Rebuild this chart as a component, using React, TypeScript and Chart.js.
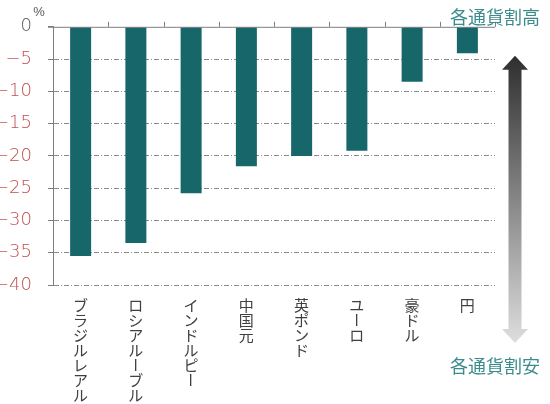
// @ts-nocheck
import {useEffect, useRef} from "react";
import {Chart, registerables} from 'chart.js';

Chart.register(...registerables);

// 各通貨の対ドル変化率 (%)
const currencies = ['ブラジルレアル', 'ロシアルーブル', 'インドルピー', '中国元', '英ポンド', 'ユーロ', '豪ドル', '円'];
const changeRates = [-35.5, -33.5, -25.8, -21.6, -20.0, -19.2, -8.5, -4.1];
const yMin = -40;
const yMax = 0;
const yStep = 5;
const unitLabel = '%';
const topNote = '各通貨割高';
const bottomNote = '各通貨割安';

const TEAL = '#17666a';
const AXIS = '#7f7f7f';
const CJK = '"Noto Sans CJK JP", sans-serif';

const decorPlugin = {
    id: 'decor',
    afterDatasetsDraw(chart) {
        const {ctx, chartArea, scales} = chart;
        const x = scales.x;
        const y = scales.y;
        const zeroY = y.getPixelForValue(0);
        ctx.save();
        // solid zero line with upward category ticks
        ctx.strokeStyle = AXIS;
        ctx.lineWidth = 1;
        ctx.beginPath();
        ctx.moveTo(chartArea.left - 5, zeroY + 0.5);
        ctx.lineTo(chartArea.right, zeroY + 0.5);
        const step = (chartArea.right - chartArea.left) / currencies.length;
        for (let i = 1; i <= currencies.length; i++) {
            const px = Math.round(chartArea.left + i * step) + 0.5;
            ctx.moveTo(px, zeroY);
            ctx.lineTo(px, zeroY - 5);
        }
        ctx.stroke();

        // vertical category labels
        ctx.fillStyle = '#404040';
        ctx.font = '15px ' + CJK;
        ctx.textAlign = 'center';
        ctx.textBaseline = 'middle';
        currencies.forEach((label, i) => {
            const cx = x.getPixelForValue(i);
            [...label].forEach((ch, j) => {
                const cy = chartArea.bottom + 20 + j * 15;
                if (ch === 'ー') {
                    ctx.save();
                    ctx.translate(cx, cy);
                    ctx.rotate(Math.PI / 2);
                    ctx.fillText(ch, 0, 0);
                    ctx.restore();
                } else {
                    ctx.fillText(ch, cx, cy);
                }
            });
        });

        // unit label
        ctx.fillStyle = '#595959';
        ctx.font = '13px "Liberation Sans", sans-serif';
        ctx.textAlign = 'center';
        ctx.fillText(unitLabel, chartArea.left - 14, zeroY - 14);

        // notes
        ctx.fillStyle = '#3b8b8d';
        ctx.font = '18px ' + CJK;
        ctx.textAlign = 'right';
        ctx.fillText(topNote, chart.width - 10, zeroY - 10);
        ctx.fillText(bottomNote, chart.width - 10, chartArea.bottom + 81);

        // gradient double arrow
        const ax = chartArea.right + 20;
        const top = chartArea.top + 29;
        const bot = chartArea.bottom + 58;
        const grad = ctx.createLinearGradient(0, top, 0, bot);
        grad.addColorStop(0, '#2e2e2e');
        grad.addColorStop(1, '#dedede');
        ctx.fillStyle = grad;
        ctx.beginPath();
        ctx.moveTo(ax, top);
        ctx.lineTo(ax + 13, top + 14);
        ctx.lineTo(ax + 6.5, top + 14);
        ctx.lineTo(ax + 6.5, bot - 14);
        ctx.lineTo(ax + 13, bot - 14);
        ctx.lineTo(ax, bot);
        ctx.lineTo(ax - 13, bot - 14);
        ctx.lineTo(ax - 6.5, bot - 14);
        ctx.lineTo(ax - 6.5, top + 14);
        ctx.lineTo(ax - 13, top + 14);
        ctx.closePath();
        ctx.fill();
        ctx.restore();
    },
};

export default function App() {
    const chartRef = useRef(null);
    const chartInstance = useRef(null);

    useEffect(() => {
        const ctx = chartRef.current?.getContext('2d');
        chartInstance.current = new Chart(ctx, {
            type: 'bar',
            data: {
                labels: currencies,
                datasets: [
                    {
                        label: '変化率',
                        data: changeRates,
                        backgroundColor: TEAL,
                        borderWidth: 0,
                        barPercentage: 0.38,
                        categoryPercentage: 1,
                    },
                ],
            },
            options: {
                animation: false,
                responsive: true,
                maintainAspectRatio: false,
                layout: {padding: {left: 0, top: 26, right: 55, bottom: 119}},
                plugins: {
                    legend: {display: false},
                    tooltip: {enabled: false},
                },
                scales: {
                    x: {
                        display: false,
                    },
                    y: {
                        min: yMin,
                        max: yMax,
                        afterFit: (s) => { s.width = 53; },
                        ticks: {
                            stepSize: yStep,
                            padding: 16,
                            callback: (v) => String(v).replace('-', '−'),
                            color: (c) => (c.tick.value === 0 ? '#595959' : '#c0504d'),
                            font: {size: 18, weight: 200, family: '"DejaVu Sans", sans-serif'},
                        },
                        grid: {
                            color: (c) => (c.tick && c.tick.value === 0 ? 'rgba(0,0,0,0)' : '#8a8a8a'),
                            tickColor: AXIS,
                            tickLength: 5,
                        },
                        border: {display: true, color: AXIS, dash: [5, 2, 1, 2]},
                    },
                },
            },
            plugins: [decorPlugin],
        });

        return () => {
            chartInstance.current.destroy();
        };
    }, []);

    return (
        <div style={{position: 'absolute', left: 0, top: 0, width: 550, height: 404, background: '#fff'}}>
            <canvas ref={chartRef}/>
        </div>
    );
}
